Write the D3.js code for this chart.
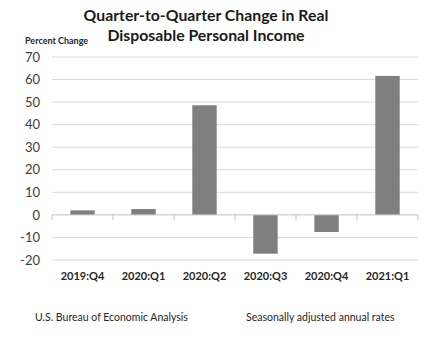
<!DOCTYPE html>
<html>
<head>
<meta charset="utf-8">
<script src="https://cdn.jsdelivr.net/npm/d3@7"></script>
<style>
  body { margin: 0; background: #fff; }
  text { font-family: Lato, "Open Sans", sans-serif; }
</style>
</head>
<body>
<script>
// quarterly change data
const quarters = ["2019:Q4", "2020:Q1", "2020:Q2", "2020:Q3", "2020:Q4", "2021:Q1"];
const changes = [2.0, 2.6, 48.6, -17.2, -7.6, 61.6];
const yTicks = [-20, -10, 0, 10, 20, 30, 40, 50, 60, 70];

const w = 427;
const h = 341;
const plotLeft = 52, plotRight = 418, plotTop = 57, plotBottom = 260;

const svg = d3.select("body")
    .append("svg")
    .attr("width", w)
    .attr("height", h);

const x = d3.scaleBand()
    .domain(quarters)
    .range([plotLeft, plotRight])
    .paddingInner(0.6)
    .paddingOuter(0.3);

const xEdge = d3.scaleBand().domain(quarters).range([plotLeft, plotRight]);

const y = d3.scaleLinear()
    .domain([-20, 70])
    .range([plotBottom, plotTop]);

// gridlines
svg.append("g")
    .selectAll("line")
    .data(yTicks.filter(d => d !== 0))
    .enter()
    .append("line")
    .attr("x1", plotLeft)
    .attr("x2", plotRight)
    .attr("y1", d => y(d))
    .attr("y2", d => y(d))
    .attr("stroke", "#d9d9d9")
    .attr("stroke-width", 1);

// y labels
svg.append("g")
    .selectAll("text")
    .data(yTicks)
    .enter()
    .append("text")
    .attr("x", 40)
    .attr("y", d => y(d))
    .attr("dy", "0.36em")
    .attr("text-anchor", "end")
    .attr("font-size", 13)
    .attr("fill", "#404040")
    .text(d => d);

// bars
svg.append("g")
    .selectAll("rect")
    .data(changes)
    .enter()
    .append("rect")
    .attr("x", (d, i) => x(quarters[i]))
    .attr("width", x.bandwidth())
    .attr("y", d => y(Math.max(0, d)))
    .attr("height", d => Math.abs(y(d) - y(0)))
    .attr("fill", "#7f7f7f");

// zero axis with ticks
svg.append("line")
    .attr("x1", plotLeft).attr("x2", plotRight)
    .attr("y1", y(0)).attr("y2", y(0))
    .attr("stroke", "#bfbfbf");

svg.append("g")
    .selectAll("line")
    .data(quarters.concat(["end"]))
    .enter()
    .append("line")
    .attr("x1", (d, i) => i < quarters.length ? xEdge(d) : plotRight)
    .attr("x2", (d, i) => i < quarters.length ? xEdge(d) : plotRight)
    .attr("y1", y(0))
    .attr("y2", y(0) + 5)
    .attr("stroke", "#bfbfbf");

// category labels
svg.append("g")
    .selectAll("text")
    .data(quarters)
    .enter()
    .append("text")
    .attr("x", d => xEdge(d) + xEdge.bandwidth() / 2)
    .attr("y", 280)
    .attr("text-anchor", "middle")
    .attr("font-size", 11)
    .attr("font-weight", "bold")
    .attr("fill", "#262626")
    .text(d => d);

// titles
svg.append("text")
    .attr("x", 206).attr("y", 21)
    .attr("text-anchor", "middle")
    .attr("font-size", 15.8).attr("font-weight", "bold")
    .attr("fill", "#1a1a1a")
    .text("Quarter-to-Quarter Change in Real");
svg.append("text")
    .attr("x", 206).attr("y", 41)
    .attr("text-anchor", "middle")
    .attr("font-size", 15.8).attr("font-weight", "bold")
    .attr("fill", "#1a1a1a")
    .text("Disposable Personal Income");
svg.append("text")
    .attr("x", 25).attr("y", 44)
    .attr("font-size", 9).attr("font-weight", "bold")
    .attr("fill", "#262626")
    .text("Percent Change");

// footer
svg.append("text")
    .attr("x", 35).attr("y", 321)
    .attr("font-size", 10.5)
    .attr("fill", "#262626")
    .text("U.S. Bureau of Economic Analysis");
svg.append("text")
    .attr("x", 246).attr("y", 321)
    .attr("font-size", 10.5)
    .attr("fill", "#262626")
    .text("Seasonally adjusted annual rates");
</script>
</body>
</html>
